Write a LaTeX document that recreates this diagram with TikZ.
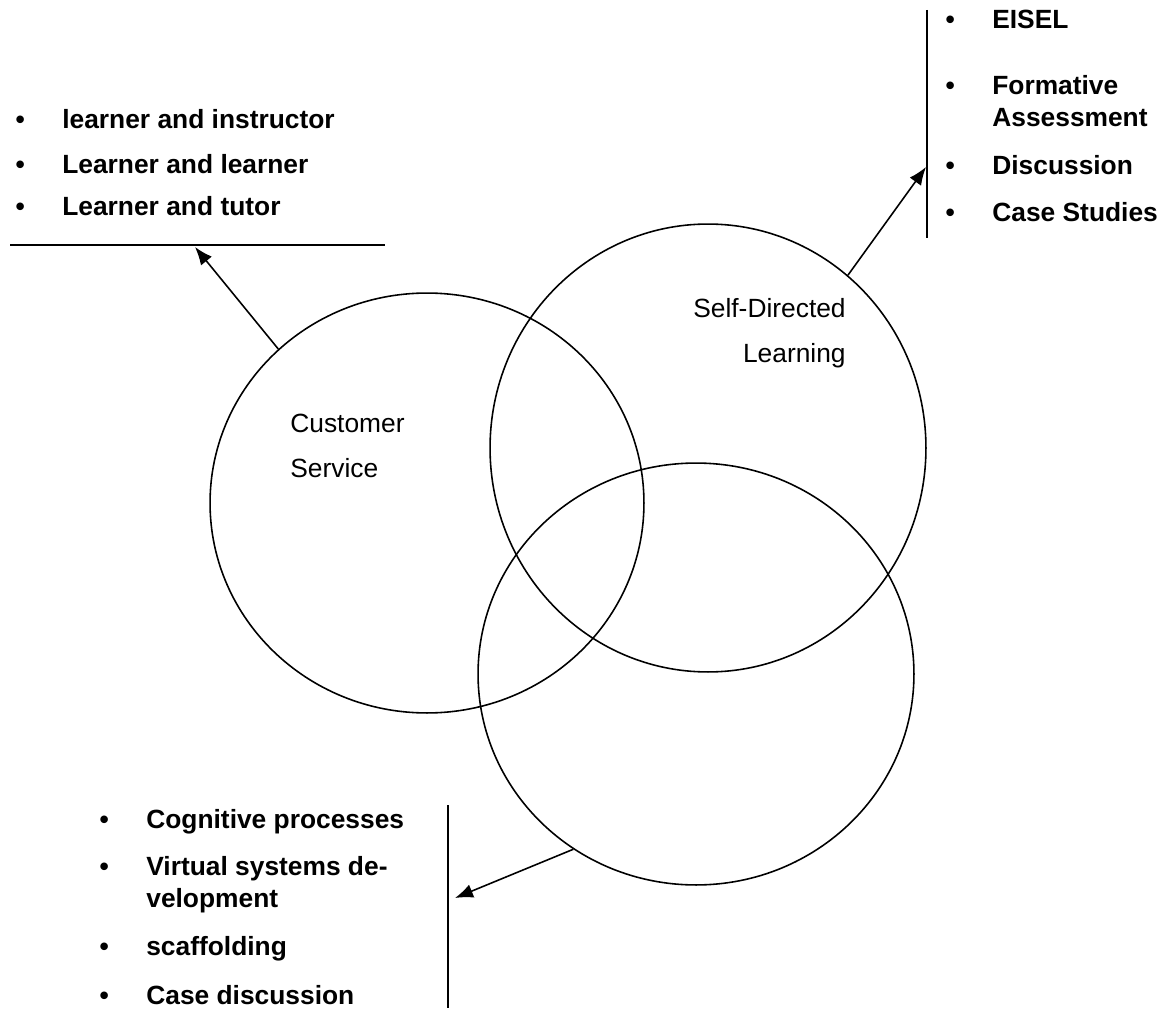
\documentclass[tikz,border=0pt]{standalone}
\usepackage{fontspec}
\setmainfont{Liberation Sans}
\usetikzlibrary{shapes.geometric,arrows.meta}
\newcommand{\bul}{\llap{\textbullet\hspace{0.75cm}}}

\begin{document}
\begin{tikzpicture}[x=0.02cm,y=-0.02cm,
  every node/.style={font=\fontsize{15}{18}\selectfont},
  set/.style={draw,ellipse,line width=0.9pt,inner sep=0pt},
  item/.style={anchor=base west,inner sep=0pt,font=\fontsize{15}{18}\selectfont\bfseries},
  bar/.style={line width=0.9pt},
  arr/.style={line width=0.9pt,-{Latex[length=0.36cm,width=0.28cm]}}]
  \useasboundingbox (0,0) rectangle (1163,1010);

  % the three sets
  \node[set,minimum width=8.68cm,minimum height=8.4cm] (1) at (427,503) {};
  \node[set,minimum width=8.72cm,minimum height=8.96cm] (2) at (708,448) {};
  \node[set,minimum width=8.72cm,minimum height=8.44cm] (3) at (696,674) {};

  \node[anchor=base west,inner sep=0pt] (4) at (290,432) {Customer};
  \node[anchor=base west,inner sep=0pt] (5) at (290,477) {Service};
  \node[anchor=base east,inner sep=0pt] (6) at (846,317) {Self-Directed};
  \node[anchor=base east,inner sep=0pt] (7) at (846,362) {Learning};

  % top left list
  \node[item] (8) at (62,129) {\bul learner and instructor};
  \node[item] (9) at (62,174) {\bul Learner and learner};
  \node[item] (10) at (62,216) {\bul Learner and tutor};
  \coordinate (a1) at (10,245);
  \coordinate (a2) at (385,245);
  \coordinate (t1) at (195,247);

  % top right list
  \node[item] (11) at (992,29) {\bul EISEL};
  \node[item] (12) at (992,95) {\bul Formative};
  \node[item] (13) at (992,127) {Assessment};
  \node[item] (14) at (992,175) {\bul Discussion};
  \node[item] (15) at (992,222) {\bul Case Studies};
  \coordinate (b1) at (927,10);
  \coordinate (b2) at (927,238);
  \coordinate (t2) at (926,167);

  % bottom list
  \node[item] (16) at (146,828) {\bul Cognitive processes};
  \node[item] (17) at (146,875) {\bul Virtual systems de-};
  \node[item] (18) at (146,907) {velopment};
  \node[item] (19) at (146,955) {\bul scaffolding};
  \node[item] (20) at (146,1004) {\bul Case discussion};
  \coordinate (c1) at (448,805);
  \coordinate (c2) at (448,1008);
  \coordinate (t3) at (455,898);

  \draw[bar] (a1) -- (a2);
  \draw[bar] (b1) -- (b2);
  \draw[bar] (c1) -- (c2);

  \draw[arr] (1.134) -- (t1);
  \draw[arr] (2.51) -- (t2);
  \draw[arr] (3.235) -- (t3);
\end{tikzpicture}
\end{document}
